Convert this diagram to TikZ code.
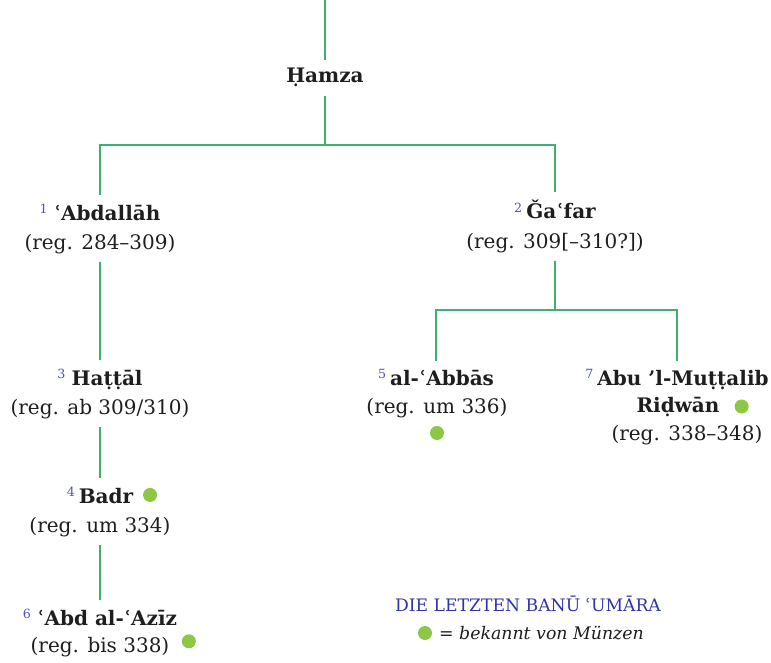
\documentclass[tikz,border=0pt]{standalone}
\usepackage{fontspec}
\setmainfont{DejaVu Serif}
\usetikzlibrary{positioning}
\definecolor{stemgreen}{RGB}{64,176,112}
\definecolor{coingreen}{RGB}{140,200,70}
\definecolor{nrblue}{RGB}{80,80,205}
\definecolor{titleblue}{RGB}{50,50,170}
\definecolor{inkgray}{RGB}{30,30,30}
\newcommand{\nr}[1]{\textsuperscript{\color{nrblue}\fontsize{9.5}{9.5}\selectfont\mdseries #1}}
\newcommand{\treefont}{\fontsize{15}{21.75}\selectfont}
\tikzset{
    stem/.style={draw=stemgreen, line width=2.1pt},
    person/.style={font=\treefont\bfseries, text=inkgray, inner xsep=0pt, inner ysep=6pt, anchor=base},
    reign/.style={font=\treefont, text=inkgray, inner xsep=0pt, inner ysep=6pt, anchor=base},
    coin/.style={circle, fill=coingreen, minimum size=10.5pt, inner sep=0pt},
    legendtext/.style={text=inkgray, inner sep=0pt}}
\begin{document}
\begin{tikzpicture}[x=0.75pt, y=-0.75pt]
\useasboundingbox (0,0) rectangle (771,663);
% Hamza and his sons
\coordinate (top) at (325,0);
\node[person] (hamza) at (325,83)  {Ḥamza};
\coordinate (fork1) at (325,145);
\node[person] (n1)  at (100,220) {\nr{1}\;ʿAbdallāh};
\node[reign]  (n1r) at (100,249) {(reg. 284–309)};
\node[person] (n2)  at (555,219) {\nr{2}\,Ǧaʿfar};
\node[reign]  (n2r) at (555,248) {(reg. 309[–310?])};
\coordinate (fork2) at (555,310);
% left line
\node[person] (n3)  at (100,385) {\nr{3}\;Haṭṭāl};
\node[reign]  (n3r) at (100,414) {(reg. ab 309/310)};
\node[person] (n4)  at (100,503) {\nr{4}\,Badr};
\node[reign]  (n4r) at (100,532) {(reg. um 334)};
\node[person] (n6)  at (100,625) {\nr{6}\;ʿAbd al-ʿAzīz};
\node[reign]  (n6r) at (100,652) {(reg. bis 338)};
% right line
\node[person] (n5)  at (436,385) {\nr{5}\,al-ʿAbbās};
\node[reign]  (n5r) at (437,413) {(reg. um 336)};
\node[person] (n7)  at (677,385) {\nr{7}\,Abu ’l-Muṭṭalib};
\node[person] (n7b) at (678,412) {Riḍwān};
\node[reign]  (n7r) at (687,440) {(reg. 338–348)};
% coins
\node[coin] (c4) [right=7pt of n4] {};
\node[coin] (c6) [right=9pt of n6r, yshift=4pt] {};
\node[coin] (c5) [below=0pt of n5r] {};
\node[coin] (c7) [right=11pt of n7b] {};
% connectors
\draw[stem] (top) -- (hamza);
\draw[stem] (hamza) -- (fork1) -| (n1);
\draw[stem] (fork1) -| (n2);
\draw[stem] (n1r) -- (n3);
\draw[stem] (n3r) -- (n4);
\draw[stem] (n4r) -- (n6);
\draw[stem] (n2r) -- (fork2) -| (n5);
\draw[stem] (fork2) -| (n7);
% legend
\node[legendtext, text=titleblue, font=\fontsize{12.9}{12.9}\selectfont, anchor=base] (title) at (528,611) {DIE LETZTEN BANŪ ʿUMĀRA};
\node[coin] (key) at (425,633) {};
\node[legendtext, font=\fontsize{13}{13}\selectfont\itshape, right=5pt of key] (keytext) {= bekannt von Münzen};
\end{tikzpicture}
\end{document}
